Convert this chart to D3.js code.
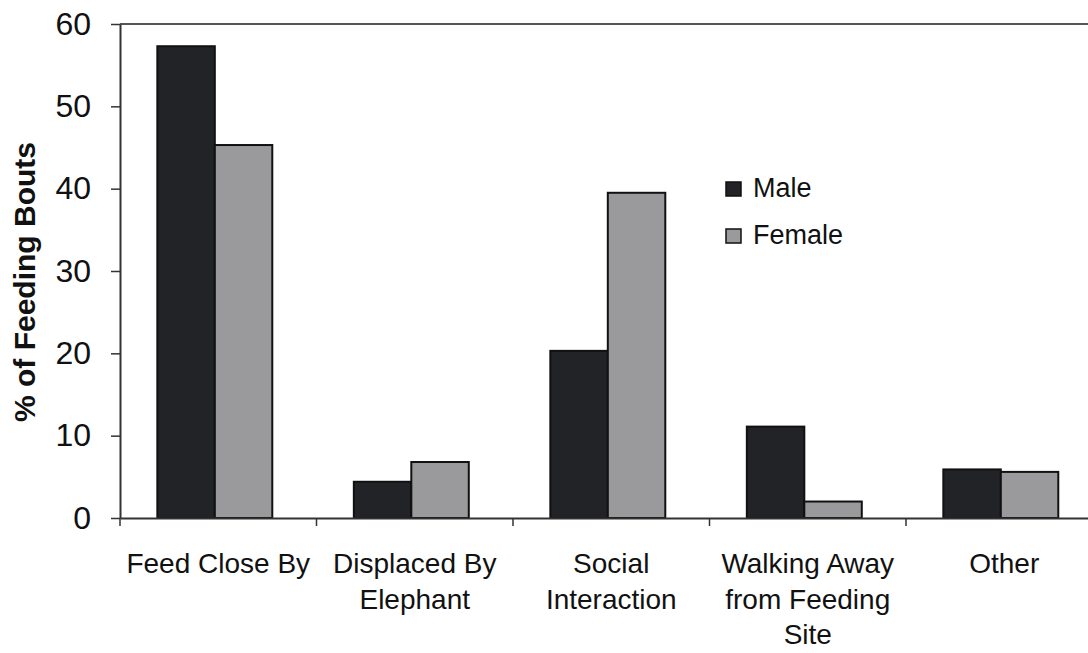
<!DOCTYPE html>
<html>
<head>
<meta charset="utf-8">
<script src="https://cdn.jsdelivr.net/npm/d3@7"></script>
<style>
  html, body { margin: 0; padding: 0; background: #fff; }
  svg { display: block; font-family: Arial, "Liberation Sans", sans-serif; }
</style>
</head>
<body>
<svg id="chart" width="1088" height="653"></svg>
<script>
// Behaviour after a feeding bout, split by sex (% of feeding bouts)
const categories = [
  ["Feed Close By"],
  ["Displaced By", "Elephant"],
  ["Social", "Interaction"],
  ["Walking Away", "from Feeding", "Site"],
  ["Other"]
];
const seriesNames = ["Male", "Female"];
const maleValues = [57.3, 4.4, 20.3, 11.1, 5.9];
const femaleValues = [45.3, 6.8, 39.5, 2.0, 5.6];
const yTicks = [0, 10, 20, 30, 40, 50, 60];
const seriesColors = ["#222327", "#9a9a9c"];

const svg = d3.select("#chart");
const plotLeft = 120, plotTop = 24, plotBottom = 518;
const step = 196.5;
const catKeys = categories.map(c => c.join(" "));

const x0 = d3.scaleBand()
  .domain(catKeys)
  .range([plotLeft, plotLeft + step * catKeys.length])
  .padding(0);

const x1 = d3.scaleBand()
  .domain(seriesNames)
  .range([step * 0.19, step * 0.775])
  .padding(0);

const y = d3.scaleLinear().domain([0, 60]).range([plotBottom, plotTop]);

const rows = catKeys.map((k, i) => ({ key: k, values: [maleValues[i], femaleValues[i]] }));

// top frame line
svg.append("line")
  .attr("x1", plotLeft).attr("x2", 1088)
  .attr("y1", y(60)).attr("y2", y(60))
  .attr("stroke", "#555").attr("stroke-width", 2);

// bars
const groups = svg.append("g").selectAll("g")
  .data(rows).join("g")
  .attr("transform", d => `translate(${x0(d.key)},0)`);

groups.selectAll("rect")
  .data(d => d.values.map((v, j) => ({ name: seriesNames[j], value: v, j })))
  .join("rect")
  .attr("x", d => x1(d.name))
  .attr("y", d => y(d.value))
  .attr("width", x1.bandwidth())
  .attr("height", d => y(0) - y(d.value))
  .attr("fill", d => seriesColors[d.j])
  .attr("stroke", "#111")
  .attr("stroke-width", 2);

// y axis
const yAxis = svg.append("g")
  .attr("transform", `translate(${plotLeft},0)`)
  .call(d3.axisLeft(y).tickValues(yTicks).tickSize(9).tickPadding(20).tickSizeOuter(0));
yAxis.select(".domain").attr("stroke", "#333").attr("stroke-width", 2);
yAxis.selectAll(".tick line").attr("stroke", "#333").attr("stroke-width", 1.5);
yAxis.selectAll(".tick text")
  .attr("font-size", 32).attr("fill", "#111")
  .attr("font-family", "Arial, 'Liberation Sans', sans-serif");

// x axis
const xAxis = svg.append("g")
  .attr("transform", `translate(0,${plotBottom})`)
  .call(d3.axisBottom(x0).tickSize(0).tickFormat(""));
xAxis.select(".domain").attr("stroke", "#333").attr("stroke-width", 2);

// category boundary ticks
svg.append("g").selectAll("line")
  .data(catKeys)
  .join("line")
  .attr("x1", d => x0(d)).attr("x2", d => x0(d))
  .attr("y1", plotBottom).attr("y2", plotBottom + 8)
  .attr("stroke", "#333").attr("stroke-width", 1.5);

// category labels
const lab = svg.append("g").selectAll("text")
  .data(categories)
  .join("text")
  .attr("text-anchor", "middle")
  .attr("font-size", 28)
  .attr("fill", "#111")
  .attr("x", (d, i) => x0(catKeys[i]) + step / 2)
  .attr("y", 573);
lab.selectAll("tspan")
  .data(d => d)
  .join("tspan")
  .attr("x", function () { return this.parentNode.getAttribute("x"); })
  .attr("dy", (d, i) => i === 0 ? 0 : 35.5)
  .text(d => d);

// y axis title
svg.append("text")
  .attr("transform", "translate(35,282) rotate(-90)")
  .attr("text-anchor", "middle")
  .attr("font-size", 30)
  .attr("font-weight", "bold")
  .attr("fill", "#111")
  .text("% of Feeding Bouts");

// legend
const legend = svg.append("g").attr("transform", "translate(726,182)");
const items = legend.selectAll("g")
  .data(seriesNames)
  .join("g")
  .attr("transform", (d, i) => `translate(0,${i * 47})`);
items.append("rect")
  .attr("width", 15).attr("height", 14)
  .attr("fill", (d, i) => seriesColors[i])
  .attr("stroke", "#111").attr("stroke-width", 1.5);
items.append("text")
  .attr("x", 27).attr("y", 15)
  .attr("font-size", 27)
  .attr("fill", "#111")
  .text(d => d);
</script>
</body>
</html>
